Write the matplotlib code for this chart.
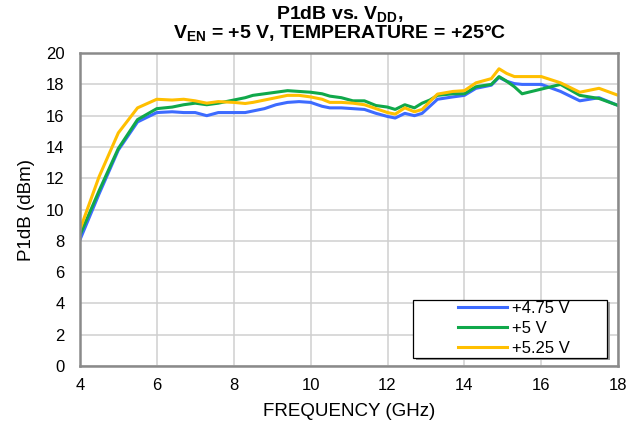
import matplotlib
matplotlib.use("Agg")
import matplotlib.pyplot as plt
from matplotlib.patches import Rectangle

plt.rcParams['font.family'] = ['Liberation Sans', 'DejaVu Sans']
plt.rcParams['mathtext.fontset'] = 'custom'
plt.rcParams['mathtext.rm'] = 'Liberation Sans'
plt.rcParams['mathtext.bf'] = 'Liberation Sans:bold'

# frequency points (GHz)
freq = [4, 4.5, 5, 5.5, 6, 6.4, 6.7, 7, 7.3, 7.6, 8, 8.3, 8.5, 8.8, 9.1, 9.4,
        9.7, 10, 10.3, 10.5, 10.8, 11.1, 11.4, 11.7, 12, 12.2, 12.45, 12.7,
        12.9, 13.1, 13.3, 13.7, 14, 14.3, 14.7, 14.9, 15.1, 15.3, 15.5, 16,
        16.5, 17, 17.5, 18]

# P1dB (dBm) for each supply voltage
p1db_475 = [8.05, 11.0, 13.8, 15.6, 16.2, 16.25, 16.2, 16.2, 16.0, 16.2, 16.2,
            16.2, 16.3, 16.45, 16.7, 16.85, 16.9, 16.85, 16.6, 16.5, 16.5,
            16.45, 16.4, 16.15, 15.95, 15.85, 16.15, 16.0, 16.15, 16.6, 17.05,
            17.2, 17.3, 17.75, 17.95, 18.45, 18.2, 18.05, 18.0, 18.0, 17.55,
            16.95, 17.15, 16.65]
p1db_500 = [8.35, 11.2, 13.9, 15.75, 16.45, 16.55, 16.7, 16.8, 16.7, 16.8,
            17.0, 17.15, 17.3, 17.4, 17.5, 17.6, 17.55, 17.5, 17.4, 17.25,
            17.15, 16.95, 16.95, 16.65, 16.55, 16.4, 16.7, 16.5, 16.8, 17.0,
            17.3, 17.4, 17.4, 17.85, 18.0, 18.5, 18.2, 17.85, 17.4, 17.7, 18.0,
            17.3, 17.1, 16.65]
p1db_525 = [8.7, 12.1, 14.9, 16.5, 17.05, 17.0, 17.05, 16.95, 16.8, 16.9,
            16.85, 16.78, 16.85, 17.0, 17.15, 17.3, 17.3, 17.2, 17.05, 16.85,
            16.85, 16.8, 16.7, 16.45, 16.2, 16.1, 16.5, 16.25, 16.4, 16.9,
            17.38, 17.55, 17.6, 18.1, 18.37, 19.0, 18.7, 18.5, 18.5, 18.5,
            18.1, 17.5, 17.75, 17.3]

labels = ['+4.75 V', '+5 V', '+5.25 V']
colors = ['#3D6BFF', '#10A84A', '#FFBF00']

fig = plt.figure(figsize=(6.44, 4.25), dpi=100)
ax = fig.add_axes([0.124, 0.139, 0.836, 0.736])

for vals, lab, col in zip([p1db_475, p1db_500, p1db_525], labels, colors):
    ax.plot(freq, vals, color=col, lw=2.2, label=lab)

ax.set_xlim(4, 18)
ax.set_ylim(0, 20)
ax.set_xticks(range(4, 19, 2))
ax.set_yticks(range(0, 21, 2))
ax.grid(True, color='#CFCFCF', lw=1.1)
ax.set_axisbelow(True)
ax.tick_params(length=0, labelsize=12)
ax.tick_params(axis='x', pad=9)
ax.tick_params(axis='y', pad=11)
for s in ax.spines.values():
    s.set_color('#8A8A8A')
    s.set_linewidth(1.8)

ax.set_xlabel('FREQUENCY (GHz)', fontsize=13.5, labelpad=7)
ax.set_ylabel('P1dB (dBm)', fontsize=13.5, labelpad=8)

fig.text(0.528, 0.966, r'P1dB vs. V$_{\mathbf{DD}}$,', ha='center', va='center',
         fontsize=14, fontweight='bold')
fig.text(0.528, 0.92, r'V$_{\mathbf{EN}}$ = +5 V, TEMPERATURE = +25°C',
         ha='center', va='center', fontsize=14, fontweight='bold')

# legend box with a small shadow
bx0, by0, bw, bh = 0.619, 0.026, 0.36, 0.186
shadow = Rectangle((bx0 + 0.005, by0 - 0.008), bw, bh, transform=ax.transAxes,
                   facecolor='#9A9A9A', edgecolor='none', zorder=4)
box = Rectangle((bx0, by0), bw, bh, transform=ax.transAxes,
                facecolor='white', edgecolor='black', lw=0.9, zorder=5)
ax.add_patch(shadow)
ax.add_patch(box)
leg = ax.legend(loc='center', bbox_to_anchor=(bx0 + 0.008, by0, bw, bh),
                frameon=False, fontsize=12, handlelength=2.9,
                handletextpad=0.35, labelspacing=0.3)
leg.set_zorder(6)

fig.savefig('out.png', dpi=100)
